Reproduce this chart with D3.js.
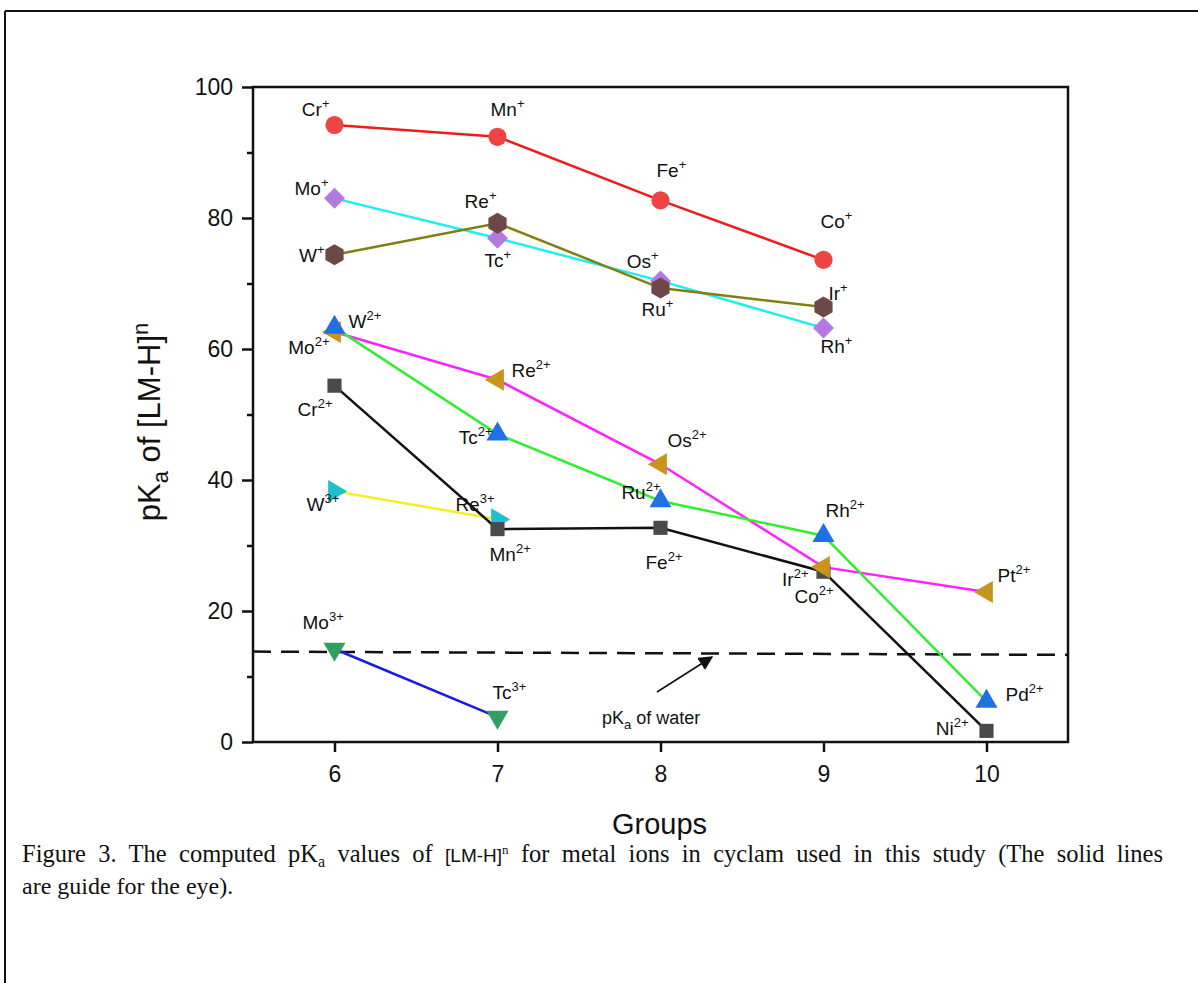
<!DOCTYPE html>
<html><head><meta charset="utf-8">
<script src="https://cdn.jsdelivr.net/npm/d3@7"></script>
<style>
html,body{margin:0;padding:0;background:#fff;}
svg{display:block;}
text{font-family:"Liberation Sans",Arial,sans-serif;fill:#111;}
</style></head>
<body>
<script>
// ---------------- data ----------------
const groupTicks = [6, 7, 8, 9, 10];
const yMajorTicks = [0, 20, 40, 60, 80, 100];
const yMinorTicks = [10, 30, 50, 70, 90];

// M+ 3d
const m3dPlusNames = ["Cr", "Mn", "Fe", "Co"];
const m3dPlusGroups = [6, 7, 8, 9];
const m3dPlusValues = [94.2, 92.4, 82.7, 73.6];
// M+ 4d
const m4dPlusNames = ["Mo", "Tc", "Ru", "Rh"];
const m4dPlusGroups = [6, 7, 8, 9];
const m4dPlusValues = [83.0, 76.9, 70.4, 63.2];
// M+ 5d
const m5dPlusNames = ["W", "Re", "Os", "Ir"];
const m5dPlusGroups = [6, 7, 8, 9];
const m5dPlusValues = [74.4, 79.2, 69.3, 66.4];
// M2+ 3d
const m3d2Names = ["Cr", "Mn", "Fe", "Co", "Ni"];
const m3d2Groups = [6, 7, 8, 9, 10];
const m3d2Values = [54.4, 32.5, 32.7, 26.0, 1.7];
// M2+ 4d
const m4d2Names = ["Mo", "Tc", "Ru", "Rh", "Pd"];
const m4d2Groups = [6, 7, 8, 9, 10];
const m4d2Values = [63.3, 47.0, 36.8, 31.5, 6.2];
// M2+ 5d
const m5d2Names = ["W", "Re", "Os", "Ir", "Pt"];
const m5d2Groups = [6, 7, 8, 9, 10];
const m5d2Values = [62.6, 55.3, 42.4, 26.7, 22.9];
// M3+ 5d
const m5d3Names = ["W", "Re"];
const m5d3Groups = [6, 7];
const m5d3Values = [38.3, 34.0];
// M3+ 4d
const m4d3Names = ["Mo", "Tc"];
const m4d3Groups = [6, 7];
const m4d3Values = [14.2, 3.8];
// pKa of water reference line
const waterGroups = [5.5, 10.5];
const waterValues = [13.8, 13.3];

// ---------------- layout / style ----------------
const W = 1198, H = 983;
const M = {left: 253, right: 1068, top: 87, bottom: 742};
const x = d3.scaleLinear().domain([5.5, 10.5]).range([M.left, M.right]);
const y = d3.scaleLinear().domain([0, 100]).range([M.bottom, M.top]);

// label placements [dx, dy, anchor] relative to each point
const L_3dPlus = [[-5,-9,"end"],[-7,-21,"start"],[-4,-23,"start"],[-3,-32,"start"]];
const L_4dPlus = [[-6,-3,"end"],[-13,29,"start"],[-19,35,"start"],[-3,25,"start"]];
const L_5dPlus = [[-10,7,"end"],[-1,-15,"end"],[-2,-20,"end"],[5,-7,"start"]];
const L_3d2 = [[-2,30,"end"],[-8,32,"start"],[-15,41,"start"],[-29,31,"start"],[-18,4,"end"]];
const L_4d2 = [[-5,27,"end"],[-5,10,"end"],[0,-2,"end"],[2,-19,"start"],[19,0,"start"]];
const L_5d2 = [[14,-4,"start"],[14,-3,"start"],[7,-17,"start"],[-15,19,"end"],[11,-10,"start"]];
const L_5d3 = [[-28,20,"start"],[-3,-8,"end"]];
const L_4d3 = [[-32,-20,"start"],[-5,-18,"start"]];

const series = [
  {names:m3dPlusNames, g:m3dPlusGroups, v:m3dPlusValues, ch:"+", line:"#ee1c1c", fill:"#ef4444", sym:"circle", lab:L_3dPlus},
  {names:m4dPlusNames, g:m4dPlusGroups, v:m4dPlusValues, ch:"+", line:"#22eef0", fill:"#b27ae0", sym:"diamond", lab:L_4dPlus},
  {names:m5dPlusNames, g:m5dPlusGroups, v:m5dPlusValues, ch:"+", line:"#808010", fill:"#6e4848", sym:"hexagon", lab:L_5dPlus},
  {names:m5d3Names, g:m5d3Groups, v:m5d3Values, ch:"3+", line:"#f2f020", fill:"#1fbfcc", sym:"right", lab:L_5d3},
  {names:m4d3Names, g:m4d3Groups, v:m4d3Values, ch:"3+", line:"#1a1ae6", fill:"#30a060", sym:"down", lab:L_4d3},
  {names:m3d2Names, g:m3d2Groups, v:m3d2Values, ch:"2+", line:"#111111", fill:"#4a4a4a", sym:"square", lab:L_3d2},
  {names:m5d2Names, g:m5d2Groups, v:m5d2Values, ch:"2+", line:"#ff22ff", fill:"#c8941c", sym:"left", lab:L_5d2},
  {names:m4d2Names, g:m4d2Groups, v:m4d2Values, ch:"2+", line:"#30ee30", fill:"#1f6fe6", sym:"up", lab:L_4d2}
];

const svg = d3.select("body").append("svg").attr("width", W).attr("height", H);

// outer frame (table border)
svg.append("line").attr("x1",5).attr("y1",11).attr("x2",W).attr("y2",11).attr("stroke","#111").attr("stroke-width",2);
svg.append("line").attr("x1",5).attr("y1",11).attr("x2",5).attr("y2",H).attr("stroke","#111").attr("stroke-width",2);

// axes
const yAxis = svg.append("g").attr("transform",`translate(${M.left},0)`)
  .call(d3.axisLeft(y).tickValues(yMajorTicks).tickSize(11).tickPadding(9).tickFormat(d3.format("d")));
const yMinor = svg.append("g").attr("transform",`translate(${M.left},0)`)
  .call(d3.axisLeft(y).tickValues(yMinorTicks).tickSize(6).tickFormat(""));
const xAxis = svg.append("g").attr("transform",`translate(0,${M.bottom})`)
  .call(d3.axisBottom(x).tickValues(groupTicks).tickSize(10).tickPadding(14).tickFormat(d3.format("d")));
[yAxis, yMinor, xAxis].forEach(a => {
  a.select(".domain").remove();
  a.selectAll(".tick line").attr("stroke","#111").attr("stroke-width",2.5);
  a.selectAll(".tick text").attr("font-size",23).attr("font-family","Liberation Sans, Arial, sans-serif").attr("fill","#111");
});

// water dashed line
svg.append("path")
  .datum(waterGroups.map((g,i)=>[g, waterValues[i]]))
  .attr("d", d3.line().x(d=>x(d[0])).y(d=>y(d[1])))
  .attr("fill","none").attr("stroke","#111").attr("stroke-width",2.5).attr("stroke-dasharray","18,10");

// series lines
const lineGen = d3.line().x(d=>x(d[0])).y(d=>y(d[1]));
series.forEach(s => {
  svg.append("path").datum(s.g.map((g,i)=>[g, s.v[i]]))
    .attr("d", lineGen).attr("fill","none").attr("stroke", s.line).attr("stroke-width", 2.5);
});

// markers
function hexPath(r){
  const p = d3.path();
  for(let k=0;k<6;k++){
    const a = Math.PI/2 + k*Math.PI/3;
    const px = r*Math.cos(a), py = r*Math.sin(a);
    if(k===0) p.moveTo(px,py); else p.lineTo(px,py);
  }
  p.closePath(); return p.toString();
}
function markerPath(sym){
  const tri = d3.symbol().type(d3.symbolTriangle).size(210)();
  switch(sym){
    case "circle": return {d:d3.symbol().type(d3.symbolCircle).size(260)(), rot:0};
    case "diamond": return {d:d3.symbol().type(d3.symbolSquare).size(220)(), rot:45};
    case "hexagon": return {d:hexPath(10.5), rot:0};
    case "square": return {d:d3.symbol().type(d3.symbolSquare).size(200)(), rot:0};
    case "up": return {d:tri, rot:0};
    case "down": return {d:tri, rot:180};
    case "left": return {d:tri, rot:-90};
    case "right": return {d:tri, rot:90};
  }
}
series.forEach(s => {
  const mp = markerPath(s.sym);
  svg.append("g").selectAll("path").data(s.g.map((g,i)=>[g, s.v[i]])).join("path")
    .attr("d", mp.d)
    .attr("transform", d=>`translate(${x(d[0])},${y(d[1])}) rotate(${mp.rot})`)
    .attr("fill", s.fill);
});

// point labels with superscript charge
series.forEach(s => {
  s.names.forEach((n,i) => {
    const [dx, dy, anchor] = s.lab[i];
    const t = svg.append("text")
      .attr("x", x(s.g[i]) + dx).attr("y", y(s.v[i]) + dy)
      .attr("text-anchor", anchor).attr("font-size", 19);
    t.append("tspan").text(n);
    t.append("tspan").attr("dy",-8).attr("font-size",13).text(s.ch);
  });
});

// plot frame
svg.append("rect").attr("x",M.left).attr("y",M.top).attr("width",M.right-M.left).attr("height",M.bottom-M.top)
  .attr("fill","none").attr("stroke","#111").attr("stroke-width",2.5);

// water annotation
svg.append("defs").append("marker").attr("id","ah").attr("viewBox","0 0 10 10").attr("refX",9).attr("refY",5)
  .attr("markerWidth",9).attr("markerHeight",9).attr("orient","auto")
  .append("path").attr("d","M0,0 L10,5 L0,10 Z").attr("fill","#111");
svg.append("line").attr("x1",657).attr("y1",692).attr("x2",712).attr("y2",657)
  .attr("stroke","#111").attr("stroke-width",1.6).attr("marker-end","url(#ah)");
const wt = svg.append("text").attr("x",602).attr("y",724).attr("font-size",18);
wt.append("tspan").text("pK");
wt.append("tspan").attr("dy",5).attr("font-size",13).text("a");
wt.append("tspan").attr("dy",-5).text(" of water");

// axis titles
svg.append("text").attr("x",(M.left+M.right)/2 - 1).attr("y",834).attr("text-anchor","middle")
  .attr("font-size",29).text("Groups");
const yt = svg.append("text").attr("transform","translate(160,422) rotate(-90)").attr("text-anchor","middle").attr("font-size",31);
yt.append("tspan").text("pK");
yt.append("tspan").attr("dy",8).attr("font-size",22).text("a");
yt.append("tspan").attr("dy",-8).text(" of [LM-H]");
yt.append("tspan").attr("dy",-12).attr("font-size",22).text("n");

// caption (first line justified by widening word gaps)
const cap = svg.append("text").attr("x",22).attr("y",862).attr("font-size",24.5)
  .style("font-family","Liberation Serif, Times New Roman, serif");
cap.append("tspan").text("Figure 3. The computed pK");
cap.append("tspan").attr("dy",5).attr("font-size",16).text("a");
cap.append("tspan").attr("dy",-5).text(" values of ");
cap.append("tspan").style("font-family","Liberation Sans, Arial, sans-serif").attr("font-size",19).text("[LM-H]");
cap.append("tspan").attr("dy",-8).attr("font-size",13).text("n");
cap.append("tspan").attr("dy",8).text(" for metal ions in cyclam used in this study (The solid lines");
const natural = cap.node().getComputedTextLength();
const gaps = (cap.text().match(/ /g) || []).length;
cap.style("word-spacing", Math.max(0, (1141 - natural) / gaps) + "px");
svg.append("text").attr("x",22).attr("y",894).attr("font-size",24)
  .style("font-family","Liberation Serif, Times New Roman, serif").text("are guide for the eye).");
</script>
</body></html>
